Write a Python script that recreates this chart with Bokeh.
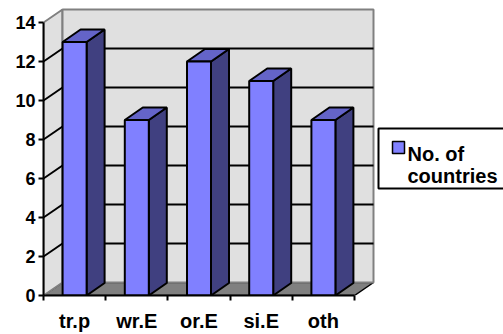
from bokeh.plotting import figure
from bokeh.models import Range1d, LinearAxis, FixedTicker
from bokeh.core.properties import value
from bokeh.embed import file_html
from bokeh.resources import INLINE

# ---- data ----
categories = ["tr.p", "wr.E", "or.E", "si.E", "oth"]
values = [13, 9, 12, 11, 9]
y_ticks = [0, 2, 4, 6, 8, 10, 12, 14]
legend_lines = ["No. of", "countries"]

# ---- geometry / style ----
W, H = 503, 334
LEFT, BOTTOM = 43, 39
PPX = 62.2      # pixels per category
PPY = 19.5      # pixels per unit
YMAX = 14
DX, DY = 19 / PPX, 13 / PPY           # wall depth
BDX, BDY = 18 / PPX, 12.5 / PPY       # bar depth
HALF = 12 / PPX                        # half bar width
FONT = "Liberation Sans"
FRONT, SIDE, TOP = "#8080FF", "#404080", "#6464C8"
WALL, FLOOR, BORDER = "#E0E0E0", "#808080", "#808080"

n = len(categories)
frame_w, frame_h = W - LEFT, H - BOTTOM

p = figure(width=W, height=H, output_backend="svg", toolbar_location=None,
           x_axis_type=None, y_axis_type=None,
           x_range=Range1d(0, frame_w / PPX), y_range=Range1d(0, frame_h / PPY),
           min_border_left=LEFT, min_border_bottom=BOTTOM,
           min_border_top=0, min_border_right=0)
p.outline_line_color = None
p.background_fill_color = "white"
p.border_fill_color = "white"

# floor
p.patch([0, DX, n + DX, n], [0, DY, DY, 0], fill_color=FLOOR, line_color="black", line_width=1.5)
# left wall
p.patch([0, DX, DX, 0], [0, DY, YMAX + DY, YMAX], fill_color=WALL, line_color=BORDER, line_width=2)
# back wall
p.patch([DX, n + DX, n + DX, DX], [DY, DY, YMAX + DY, YMAX + DY], fill_color=WALL,
        line_color=BORDER, line_width=2)

# gridlines
grid = [t for t in y_ticks if 0 < t < YMAX]
p.segment(x0=[DX] * len(grid), y0=[t + DY for t in grid], x1=[n + DX] * len(grid),
          y1=[t + DY for t in grid], line_color="black", line_width=2)
p.segment(x0=[0] * len(grid), y0=grid, x1=[DX] * len(grid), y1=[t + DY for t in grid],
          line_color="black", line_width=2)

# bars
fx, fy, sx, sy, tx, ty = [], [], [], [], [], []
for i, v in enumerate(values):
    c = i + 0.5
    l, r = c - HALF, c + HALF
    fx.append([l, r, r, l]); fy.append([0, 0, v, v])
    sx.append([r, r + BDX, r + BDX, r]); sy.append([0, BDY, v + BDY, v])
    tx.append([l, r, r + BDX, l + BDX]); ty.append([v, v, v + BDY, v + BDY])
p.patches(sx, sy, fill_color=SIDE, line_color="black", line_width=2)
p.patches(tx, ty, fill_color=TOP, line_color="black", line_width=2)
p.patches(fx, fy, fill_color=FRONT, line_color="black", line_width=2)

# axes
yax = LinearAxis(ticker=FixedTicker(ticks=y_ticks), bounds=(0, YMAX))
yax.axis_line_color = "black"; yax.axis_line_width = 2
yax.major_tick_out = 5; yax.major_tick_in = 0
yax.major_tick_line_color = "black"; yax.major_tick_line_width = 2
yax.minor_tick_line_color = None
yax.major_label_standoff = 3
yax.major_label_text_font = FONT
yax.major_label_text_font_style = "bold"
yax.major_label_text_font_size = "18px"
yax.major_label_text_color = "black"
p.add_layout(yax, "left")

centers = [i + 0.5 for i in range(n)]
xax = LinearAxis(ticker=FixedTicker(ticks=centers, minor_ticks=list(range(n + 1))), bounds=(0, n))
xax.axis_line_color = "black"; xax.axis_line_width = 2
xax.major_tick_out = 0; xax.major_tick_in = 0
xax.minor_tick_out = 5; xax.minor_tick_in = 0
xax.minor_tick_line_color = "black"; xax.minor_tick_line_width = 2
xax.major_label_overrides = {c: lab for c, lab in zip(centers, categories)}
xax.major_label_standoff = 9
xax.major_label_text_font = FONT
xax.major_label_text_font_style = "bold"
xax.major_label_text_font_size = "20px"
xax.major_label_text_color = "black"
p.add_layout(xax, "below")

# legend (manual, box runs off the right edge like the original)
def px_x(px):
    return (px - LEFT) / PPX

def px_y(py):
    return (frame_h - py) / PPY

p.quad(left=px_x(378), right=px_x(530), top=px_y(128), bottom=px_y(188),
       fill_color="white", line_color="black", line_width=2)
p.quad(left=px_x(392), right=px_x(404), top=px_y(141), bottom=px_y(153),
       fill_color=FRONT, line_color="black", line_width=1.5)
p.text(x=[px_x(407), px_x(407)], y=[px_y(153), px_y(175)], text=legend_lines,
       text_font=value(FONT), text_font_style="bold", text_font_size="20px",
       text_baseline="alphabetic", text_align="left", text_color="black")

open("out.html", "w").write(file_html(p, INLINE))
